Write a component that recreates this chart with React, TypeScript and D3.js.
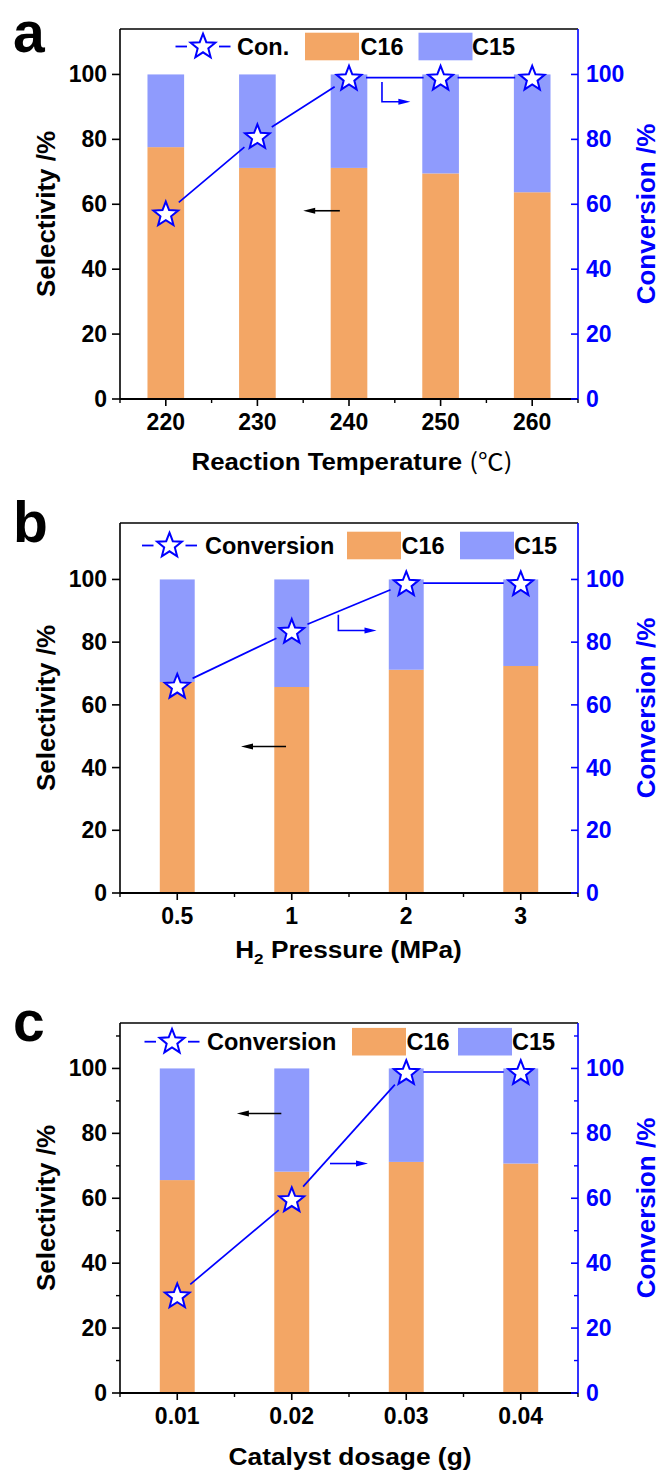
import React from 'react';
import * as d3 from 'd3';

// ---------- data ----------
const tempCategories = ['220', '230', '240', '250', '260'];
const tempC16 = [77.6, 71.2, 71.2, 69.5, 63.7];
const tempC15 = [22.4, 28.8, 28.8, 30.5, 36.3];
const tempConversion = [57.2, 81.0, 99.0, 99.0, 99.0];

const pressureCategories = ['0.5', '1', '2', '3'];
const pressureC16 = [67.3, 65.7, 71.2, 72.4];
const pressureC15 = [32.7, 34.3, 28.8, 27.6];
const pressureConversion = [66.1, 83.6, 98.8, 98.8];

const dosageCategories = ['0.01', '0.02', '0.03', '0.04'];
const dosageC16 = [65.6, 68.2, 71.2, 70.7];
const dosageC15 = [34.4, 31.8, 28.8, 29.3];
const dosageConversion = [30.1, 59.7, 98.9, 98.9];

const yTicks = [0, 20, 40, 60, 80, 100];
const yMinorTicks = [10, 30, 50, 70, 90, 110];

// ---------- style ----------
const ORANGE = '#F3A665';
const LAVENDER = '#8F9BFD';
const BLUE = '#0000FF';
const FONT = '"Liberation Sans", Arial, Helvetica, sans-serif';
const LEFT = 120;
const RIGHT = 578;

type Arrow = { color: string; pts: [number, number][] }; // [category index offset, value]

interface PanelCfg {
  label: string;
  labelY: number;
  top: number;
  bottom: number;
  yMax: number;
  cats: string[];
  c16: number[];
  c15: number[];
  conv: number[];
  barFrac: number;
  minorY: boolean;
  convLabel: string;
  legend: { cx: number; cy: number; textX: number; sw16: number; t16: number; sw15: number; t15: number };
  title: React.ReactNode;
  titleX: number;
  titleY: number;
  titleLen: number;
  arrows: Arrow[];
}

const panels: PanelCfg[] = [
  {
    label: 'a', labelY: 51.5, top: 29, bottom: 399, yMax: 114,
    cats: tempCategories, c16: tempC16, c15: tempC15, conv: tempConversion,
    barFrac: 0.4, minorY: false, convLabel: 'Con.',
    legend: { cx: 203, cy: 46.5, textX: 237, sw16: 305, t16: 360.5, sw15: 418.5, t15: 472 },
    title: (
      <>
        <tspan>Reaction Temperature </tspan>
        <tspan fontFamily='"Noto Sans CJK SC", "DejaVu Serif", serif' fontWeight="normal">(℃)</tspan>
      </>
    ),
    titleX: 352, titleY: 470, titleLen: 321,
    arrows: [
      { color: '#000', pts: [[1.9, 58.0], [1.5, 58.0]] },
      { color: BLUE, pts: [[2.36, 97.7], [2.36, 91.6], [2.67, 91.6]] },
    ],
  },
  {
    label: 'b', labelY: 542, top: 523, bottom: 893, yMax: 118,
    cats: pressureCategories, c16: pressureC16, c15: pressureC15, conv: pressureConversion,
    barFrac: 0.305, minorY: false, convLabel: 'Conversion',
    legend: { cx: 169.5, cy: 545.5, textX: 205, sw16: 347, t16: 401.5, sw15: 460, t15: 514 },
    title: (
      <>
        <tspan>H</tspan>
        <tspan fontSize={15} dy={6}>2</tspan>
        <tspan dy={-6}> Pressure (MPa)</tspan>
      </>
    ),
    titleX: 348.5, titleY: 958, titleLen: 226.7,
    arrows: [
      { color: '#000', pts: [[0.95, 46.7], [0.557, 46.7]] },
      { color: BLUE, pts: [[1.407, 88.7], [1.407, 83.7], [1.74, 83.7]] },
    ],
  },
  {
    label: 'c', labelY: 1041, top: 1023, bottom: 1393, yMax: 114,
    cats: dosageCategories, c16: dosageC16, c15: dosageC15, conv: dosageConversion,
    barFrac: 0.305, minorY: true, convLabel: 'Conversion',
    legend: { cx: 172, cy: 1041.7, textX: 207, sw16: 352, t16: 406.5, sw15: 458, t15: 512 },
    title: <tspan>Catalyst dosage (g)</tspan>,
    titleX: 350, titleY: 1465, titleLen: 243,
    arrows: [
      { color: '#000', pts: [[0.909, 86.1], [0.521, 86.1]] },
      { color: BLUE, pts: [[1.334, 70.7], [1.666, 70.7]] },
    ],
  },
];

function starPath(cx: number, cy: number, R = 13, r = 5.6) {
  const pts: string[] = [];
  for (let i = 0; i < 10; i++) {
    const a = -Math.PI / 2 + (i * Math.PI) / 5;
    const rad = i % 2 === 0 ? R : r;
    pts.push(`${(cx + rad * Math.cos(a)).toFixed(2)},${(cy + rad * Math.sin(a)).toFixed(2)}`);
  }
  return 'M' + pts.join('L') + 'Z';
}

function Star({ cx, cy }: { cx: number; cy: number }) {
  return <path d={starPath(cx, cy + 1.2)} fill="#fff" stroke={BLUE} strokeWidth={2} strokeLinejoin="miter" />;
}

function ArrowMark({ pts, color }: { pts: [number, number][]; color: string }) {
  const n = pts.length;
  const [x1, y1] = pts[n - 2];
  const [x2, y2] = pts[n - 1];
  const ang = Math.atan2(y2 - y1, x2 - x1);
  const L = 12, W = 3;
  const bx = x2 - L * Math.cos(ang), by = y2 - L * Math.sin(ang);
  const head = `M${x2},${y2}L${bx + W * Math.sin(ang)},${by - W * Math.cos(ang)}L${bx - W * Math.sin(ang)},${by + W * Math.cos(ang)}Z`;
  const line = d3.line()(pts.slice(0, n - 1).concat([[bx + 2 * Math.cos(ang), by + 2 * Math.sin(ang)]]) as [number, number][]);
  return (
    <g>
      <path d={line || ''} fill="none" stroke={color} strokeWidth={1.6} />
      <path d={head} fill={color} stroke="none" />
    </g>
  );
}

function Panel({ cfg }: { cfg: PanelCfg }) {
  const x = d3.scalePoint<string>().domain(cfg.cats).range([LEFT, RIGHT]).padding(0.5);
  const step = x.step();
  const x0 = x(cfg.cats[0]) as number;
  const y = d3.scaleLinear().domain([0, cfg.yMax]).range([cfg.bottom, cfg.top]);
  const bw = step * cfg.barFrac;
  const idx = (v: number) => x0 + v * step;

  const convPts: [number, number][] = cfg.cats.map((c, i) => [x(c) as number, y(cfg.conv[i])]);
  const segs: string[] = [];
  const gap = 17;
  for (let i = 0; i < convPts.length - 1; i++) {
    const [ax, ay] = convPts[i];
    const [bx, by] = convPts[i + 1];
    const d = Math.hypot(bx - ax, by - ay);
    const ux = (bx - ax) / d, uy = (by - ay) / d;
    segs.push(d3.line()([[ax + ux * gap, ay + uy * gap], [bx - ux * gap, by - uy * gap]]) || '');
  }

  const minorX = d3.range(cfg.cats.length + 1).map((i) => LEFT + i * step);
  const lg = cfg.legend;
  const midY = (cfg.top + cfg.bottom) / 2;

  return (
    <g fontFamily={FONT} fontWeight="bold">
      {/* bars */}
      {cfg.cats.map((c, i) => (
        <g key={c}>
          <rect x={(x(c) as number) - bw / 2} y={y(cfg.c16[i])} width={bw} height={y(0) - y(cfg.c16[i])} fill={ORANGE} />
          <rect x={(x(c) as number) - bw / 2} y={y(cfg.c16[i] + cfg.c15[i])} width={bw} height={y(cfg.c16[i]) - y(cfg.c16[i] + cfg.c15[i])} fill={LAVENDER} />
        </g>
      ))}

      {/* annotation arrows */}
      {cfg.arrows.map((a, i) => (
        <ArrowMark key={i} color={a.color} pts={a.pts.map(([ix, v]) => [idx(ix), y(v)] as [number, number])} />
      ))}

      {/* conversion line + stars */}
      {segs.map((d, i) => (
        <path key={i} d={d} fill="none" stroke={BLUE} strokeWidth={1.7} />
      ))}
      {convPts.map(([px, py], i) => (
        <Star key={i} cx={px} cy={py} />
      ))}

      {/* frame */}
      <line x1={LEFT} x2={RIGHT} y1={cfg.top} y2={cfg.top} stroke="#000" strokeWidth={1.6} />
      <line x1={LEFT} x2={LEFT} y1={cfg.top} y2={cfg.bottom} stroke="#000" strokeWidth={1.6} />
      <line x1={LEFT} x2={RIGHT} y1={cfg.bottom} y2={cfg.bottom} stroke="#000" strokeWidth={1.8} />
      <line x1={RIGHT} x2={RIGHT} y1={cfg.top} y2={cfg.bottom} stroke={BLUE} strokeWidth={1.6} />

      {/* y ticks */}
      {yTicks.map((t) => (
        <g key={t}>
          <line x1={LEFT - 8} x2={LEFT} y1={y(t)} y2={y(t)} stroke="#000" strokeWidth={1.6} />
          <text x={107} y={y(t) + 8} textAnchor="end" fontSize={23} fill="#000">{t}</text>
          <line x1={RIGHT - 7} x2={RIGHT} y1={y(t)} y2={y(t)} stroke={BLUE} strokeWidth={1.6} />
          <text x={586} y={y(t) + 8} textAnchor="start" fontSize={23} fill={BLUE}>{t}</text>
        </g>
      ))}
      {cfg.minorY &&
        yMinorTicks.map((t) => (
          <g key={'m' + t}>
            <line x1={LEFT - 4} x2={LEFT} y1={y(t)} y2={y(t)} stroke="#000" strokeWidth={1.4} />
            <line x1={RIGHT - 4} x2={RIGHT} y1={y(t)} y2={y(t)} stroke={BLUE} strokeWidth={1.4} />
          </g>
        ))}

      {/* x ticks */}
      {cfg.cats.map((c) => (
        <g key={'x' + c}>
          <line x1={x(c)} x2={x(c)} y1={cfg.bottom} y2={cfg.bottom + 7} stroke="#000" strokeWidth={1.6} />
          <text x={x(c)} y={cfg.bottom + 31} textAnchor="middle" fontSize={23}>{c}</text>
        </g>
      ))}
      {minorX.map((mx, i) => (
        <line key={'mx' + i} x1={mx} x2={mx} y1={cfg.bottom} y2={cfg.bottom + 4} stroke="#000" strokeWidth={1.4} />
      ))}

      {/* axis titles */}
      <text transform={`translate(54.5,${midY}) rotate(-90)`} textAnchor="middle" fontSize={26} fill="#000">Selectivity /%</text>
      <text transform={`translate(655,${midY}) rotate(-90)`} textAnchor="middle" fontSize={26} fill={BLUE}>Conversion /%</text>
      <text x={cfg.titleX} y={cfg.titleY} textAnchor="middle" fontSize={23} textLength={cfg.titleLen} lengthAdjust="spacingAndGlyphs">
        {cfg.title}
      </text>

      {/* legend */}
      <line x1={lg.cx - 27.5} x2={lg.cx - 16} y1={lg.cy} y2={lg.cy} stroke={BLUE} strokeWidth={1.8} />
      <line x1={lg.cx + 16} x2={lg.cx + 27.5} y1={lg.cy} y2={lg.cy} stroke={BLUE} strokeWidth={1.8} />
      <Star cx={lg.cx} cy={lg.cy - 1} />
      <text x={lg.textX} y={lg.cy + 8} fontSize={23.5}>{cfg.convLabel}</text>
      <rect x={lg.sw16} y={lg.cy - 13.8} width={54} height={27.6} fill={ORANGE} />
      <text x={lg.t16} y={lg.cy + 8} fontSize={23.5}>C16</text>
      <rect x={lg.sw15} y={lg.cy - 13.8} width={54} height={27.6} fill={LAVENDER} />
      <text x={lg.t15} y={lg.cy + 8} fontSize={23.5}>C15</text>

      {/* panel label */}
      <text x={13} y={cfg.labelY} fontSize={57}>{cfg.label}</text>
    </g>
  );
}

export default function App() {
  return (
    <svg width={660} height={1474} style={{ position: 'absolute', left: 0, top: 0, background: '#fff' }}>
      <rect width={660} height={1474} fill="#fff" />
      {panels.map((p) => (
        <Panel key={p.label} cfg={p} />
      ))}
    </svg>
  );
}
